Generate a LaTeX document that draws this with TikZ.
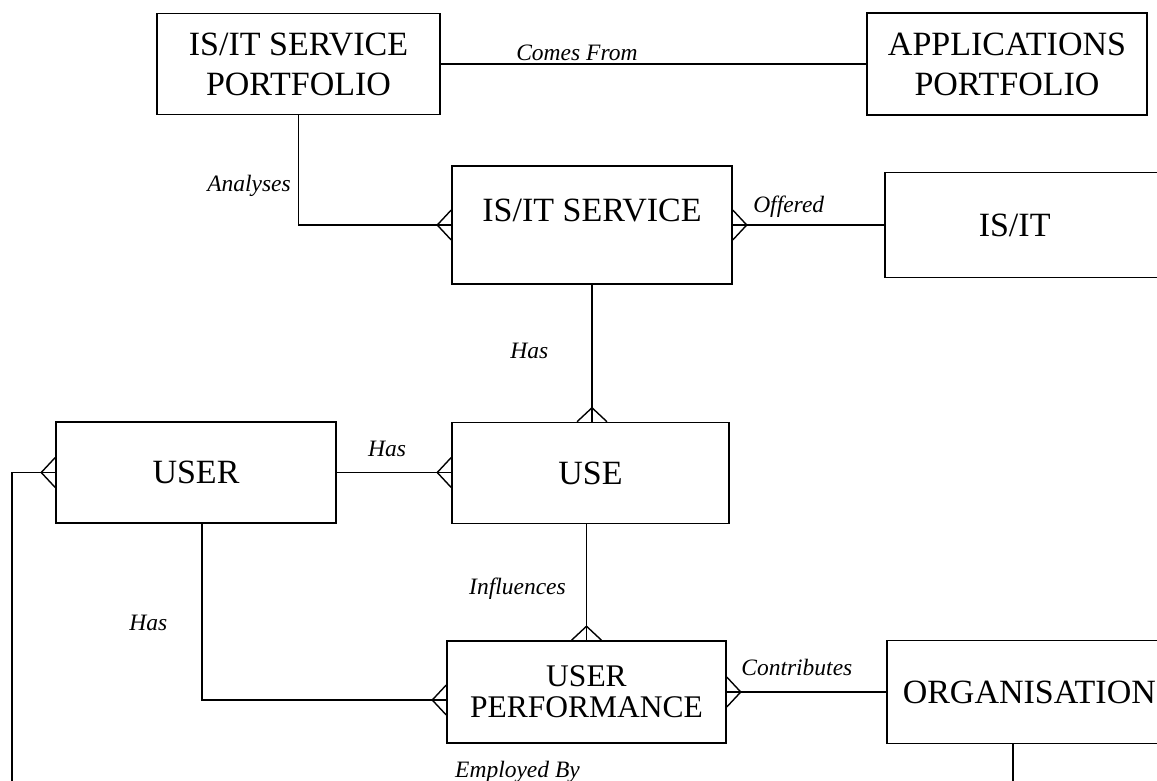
\documentclass[tikz,border=0pt]{standalone}
\usepackage{fontspec}
\setmainfont{Liberation Serif}

\tikzset{
	ent/.style={draw, line width=1.5pt, font=\fontsize{34}{40}\selectfont, align=center, inner sep=4pt},
	rel/.style={font=\fontsize{23.5}{26}\selectfont\itshape, inner sep=0pt},
	crow/.pic={\draw[line width=1.4pt] (-14,0) -- (0,15) (-14,0) -- (0,-15);}
}

\begin{document}
\begin{tikzpicture}[x=1pt, y=-1pt, line width=1.4pt]
	
		\useasboundingbox (0,0) rectangle (1157,781);
		\clip (0,0) rectangle (1157,781);
		
		\node[ent, minimum width=283pt, minimum height=101pt] (port) at (298.5,64) {IS/IT SERVICE\\PORTFOLIO};
		\node[ent, minimum width=280pt, minimum height=102pt] (apps) at (1007,64) {APPLICATIONS\\PORTFOLIO};
		\node[ent, minimum width=280pt, minimum height=118pt, text height=24pt, text depth=30pt] (svc) at (592,225) {IS/IT SERVICE};
		\node[ent, anchor=west, minimum height=105pt, inner xsep=94pt, text width=200pt, align=left] (isit) at (884,225) {IS/IT};
		\node[ent, minimum width=280pt, minimum height=101pt] (user) at (196,472.5) {USER};
		\node[ent, minimum width=277pt, minimum height=101pt] (use) at (590.5,473) {USE};
		\node[ent, minimum width=279pt, minimum height=102pt, font=\fontsize{31.5}{31}\selectfont] (perf) at (586.5,692) {USER\\PERFORMANCE};
		\node[ent, anchor=west, minimum height=103pt, inner xsep=16pt, text width=300pt, align=left] (org) at (886,692) {ORGANISATION};
		
		\draw (port.east) -- node[rel, above=3pt, pos=0.32] {Comes From} (port.east -| apps.west);
		\draw (port.south) |- node[rel, left=7pt, pos=0.32] {Analyses} (svc.west);
		\draw (svc.east) -- node[rel, above=7pt, pos=0.37] {Offered} (svc.east -| isit.west);
		\draw (svc.south) -- node[rel, left=43pt, pos=0.48] {Has} (svc.south |- use.north);
		\draw (user.east) -- node[rel, above=15pt, pos=0.44] {Has} (user.east -| use.west);
		\draw (use.south -| perf.north) -- node[rel, left=20pt, pos=0.56] {Influences} (perf.north);
		\draw ([xshift=6pt]user.south) |- node[rel, left=34pt, pos=0.28] {Has} ([yshift=-8pt]perf.west);
		\draw (perf.east) -- node[rel, above=16pt, pos=0.44] {Contributes} (perf.east -| org.west);
		
		\coordinate (eL) at (12,790);
		\coordinate (eR) at (1013,790);
		\draw (user.west) -| (eL) -- node[rel, pos=0.505, anchor=base, yshift=13pt] {Employed By} (eR) -- (org.south -| eR);
		
		% crow's feet
		\pic at (svc.west) {crow};
		\pic[rotate=180] at (svc.east) {crow};
		\pic[rotate=-90] at (svc.south |- use.north) {crow};
		\pic at (user.east -| use.west) {crow};
		\pic at (user.west) {crow};
		\pic[rotate=-90] at (perf.north) {crow};
		\pic at ([yshift=-8pt]perf.west) {crow};
		\pic[rotate=180] at (perf.east) {crow};

	\end{tikzpicture}
\end{document}
